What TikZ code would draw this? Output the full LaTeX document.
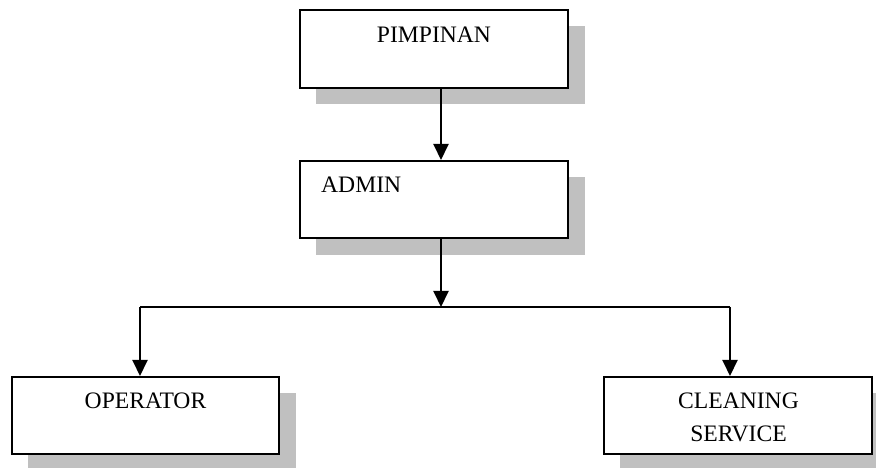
\documentclass[tikz,border=0pt]{standalone}
\usepackage{fontspec}
\setmainfont{Liberation Serif}
\usetikzlibrary{arrows.meta,calc}
\definecolor{shadegray}{HTML}{C0C0C0}
\tikzset{
  box/.style={draw=black, line width=2pt, fill=white, minimum width=268pt, minimum height=77pt, inner sep=0pt},
  shadowfill/.style={fill=shadegray, draw=none},
  lbl/.style={inner sep=0pt, font=\fontsize{23.6}{33}\selectfont},
  conn/.style={draw=black, line width=2pt},
  arr/.style={conn, -{Triangle[length=16pt,width=15pt]}}
}
\begin{document}
\begin{tikzpicture}[x=1pt,y=1pt]
\useasboundingbox[fill=white] (0,0) rectangle (876,468);
% shadows
\fill[shadowfill] (316,364) rectangle (585,442);
\fill[shadowfill] (316,213) rectangle (585,291);
\fill[shadowfill] (28,-2) rectangle (296,75);
\fill[shadowfill] (620,-2) rectangle (890,75);
% boxes
\node[box, minimum height=78pt] (p) at (434,419) {};
\node[box] (a) at (434,268.5) {};
\node[box, minimum width=267pt] (o) at (145.5,52.5) {};
\node[box] (c) at (738,52.5) {};
% labels
\node[lbl, anchor=base] (tp) at (434,425) {PIMPINAN};
\node[lbl, anchor=base west] (ta) at (321,275) {ADMIN};
\node[lbl, anchor=base] (to) at (145.5,59) {OPERATOR};
\node[lbl, anchor=base] (tc1) at (738.5,59) {CLEANING};
\node[lbl, anchor=base] (tc2) at (738.5,26) {SERVICE};
% connectors
\coordinate (j) at (441,161);
\coordinate (jl) at (140,161);
\coordinate (jr) at (730,161);
\draw[arr] (p.south -| j) -- (a.north -| j);
\draw[arr] (a.south -| j) -- (j);
\draw[conn] (jl) -- (jr);
\draw[arr] (jl) -- (o.north -| jl);
\draw[arr] (jr) -- (c.north -| jr);
\end{tikzpicture}
\end{document}
